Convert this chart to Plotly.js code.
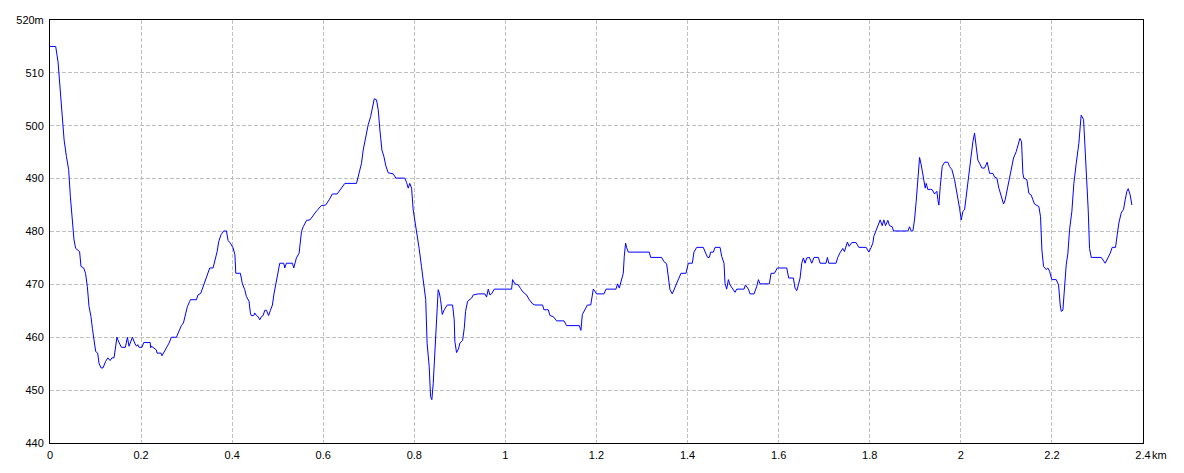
<!DOCTYPE html>
<html>
<head>
<meta charset="utf-8">
<script src="https://cdn.plot.ly/plotly-3.0.1.min.js"></script>
<style>html,body{margin:0;padding:0;background:#fff;}#chart{width:1184px;height:473px;}</style>
</head>
<body>
<div id="chart"></div>
<script>
const dist = [0,0.0125,0.0176,0.0227,0.027,0.031,0.036,0.041,0.0447,0.0476,0.05,0.0527,0.0564,0.065,0.068,0.074,0.078,0.082,0.0857,0.09,0.093,0.096,0.1003,0.1047,0.1076,0.112,0.1164,0.122,0.127,0.132,0.136,0.1406,0.143,0.147,0.15,0.1567,0.1655,0.17,0.1735,0.1765,0.181,0.186,0.19,0.1926,0.1955,0.202,0.2058,0.22,0.221,0.223,0.2277,0.2336,0.235,0.244,0.246,0.252,0.2556,0.2614,0.2665,0.2775,0.2827,0.2885,0.293,0.2973,0.3017,0.3068,0.3083,0.3215,0.325,0.331,0.336,0.3412,0.3456,0.3508,0.358,0.3625,0.367,0.3705,0.3756,0.3815,0.3874,0.391,0.396,0.402,0.406,0.408,0.418,0.4225,0.4277,0.4313,0.437,0.44,0.442,0.4474,0.4496,0.4533,0.457,0.4606,0.4643,0.468,0.4716,0.4752,0.48,0.484,0.4884,0.4914,0.4958,0.501,0.5045,0.5133,0.5155,0.519,0.5324,0.5353,0.541,0.547,
0.549,0.5522,0.556,0.5633,0.5707,0.578,0.5865,0.5957,0.6053,0.613,0.62,0.6306,0.638,0.6474,0.673,0.6789,0.684,0.6877,0.6936,0.6987,0.704,0.7082,0.712,0.717,0.7207,0.7244,0.7288,0.7331,0.7375,0.7426,0.7536,0.7595,0.779,0.7829,0.7866,0.79,0.794,0.7975,0.801,0.806,0.8105,0.8157,0.821,0.825,0.828,0.8326,0.8356,0.8385,0.8415,0.8451,0.8488,0.8524,0.8546,0.8576,0.8613,0.8657,0.8723,0.884,0.8876,0.889,0.8927,0.897,0.9,0.906,0.9096,0.9125,0.9169,0.9206,0.9257,0.9293,0.9403,0.955,0.9586,0.9623,0.966,0.9696,0.9755,1.0136,1.0157,1.0209,1.0282,1.0333,1.0392,1.0465,1.0524,1.0597,1.0648,1.0816,1.0846,1.0941,1.0978,1.1051,1.1124,1.1285,1.1344,
1.1622,1.1658,1.1689,1.1725,1.177,1.18,1.1873,1.19,1.193,1.1965,1.2,1.2164,1.2209,1.2427,1.2464,1.25,1.2552,1.2588,1.261,1.2639,1.2661,1.2698,1.316,1.3189,1.343,1.3481,1.354,1.3577,1.3613,1.3664,1.3708,1.376,1.381,1.3855,1.3965,1.4016,1.4104,1.414,1.42,1.4345,1.4397,1.444,1.4478,1.4507,1.4566,1.4603,1.4713,1.4749,1.48,1.4822,1.4859,1.4896,1.4932,1.4991,1.5042,1.5079,1.524,1.5269,1.5335,1.5372,1.546,1.5518,1.5555,1.5591,1.5796,1.5833,1.5906,1.5972,1.6177,1.622,1.6323,1.636,1.6397,1.6433,1.647,1.6507,1.6543,1.658,1.6616,1.6675,1.6726,1.6777,1.6873,1.691,1.704,1.707,1.71,1.7261,1.7297,1.7349,1.7407,1.7444,1.748,1.751,1.7547,1.7605,1.77,1.776,1.7921,1.798,1.8031,1.8068,1.809,1.8141,1.8192,1.8229,1.8273,1.831,1.8346,1.8397,1.8434,1.8493,1.8522,1.8837,1.8873,1.891,1.8947,1.8983,1.902,1.9057,1.9094,1.913,1.9181,1.9218,1.924,1.9277,1.9328,1.9372,1.9423,1.9474,1.9496,1.9518,1.9548,1.9591,1.9643,1.9716,1.9752,1.9804,1.9862,1.9899,1.9935,1.9972,2.0009,2.0045,2.0082,2.0133,2.0177,2.0228,2.0265,2.0301,2.0338,2.0374,2.0411,2.0462,2.0521,2.0579,2.0631,2.0704,2.074,2.0791,2.0835,2.0887,2.0938,2.0974,2.1011,2.1055,2.1106,2.1157,2.1216,2.1267,2.1297,2.1333,2.1362,2.1384,2.145,2.1494,2.1545,2.1582,2.1618,2.1714,2.175,2.178,2.1816,2.1875,2.1911,2.1948,2.1999,2.2094,2.2146,2.2182,2.2204,2.2241,2.2277,2.2314,2.2351,2.2387,2.2438,2.2482,2.2534,2.2592,2.2621,2.2643,2.2695,2.2731,2.2768,2.2797,2.2826,2.2863,2.3083,2.3134,2.317,2.3229,2.328,2.3324,2.3397,2.3434,2.347,2.3521,2.3573,2.3609,2.3646,2.3675,2.3719,2.3756];

const elev = [515,515,512.1,506.9,502,497.3,494.2,491.7,486.6,483.5,480.3,478.4,476.8,476.2,473.4,473.1,472.1,469.6,465.8,463.9,461.7,459.5,457.3,457,455.1,454.2,454.2,455.4,456.1,455.6,456.1,456.1,458,460,459.3,458.1,458.1,460,458.3,458.9,460,458.9,458.3,458.6,458.1,458.1,459,459,458,458.3,458,457.6,457,457,456.5,457.3,458,458.9,460,460,461.1,462.2,462.7,464.3,465.8,466.8,467.1,467.1,468,468.3,469.5,470.4,471.8,473.1,473.1,474.6,476.2,478.1,479.4,480.1,480.1,478.3,477.8,476.9,475.6,472.1,472.1,470.1,469,467.7,466.8,464.6,464.1,464.1,464.6,464.1,463.9,463.3,463.9,464.1,465.1,465.1,464.1,465.1,466.1,468,470.2,472.1,474,474,473.1,474,474,473.1,475,475.9,
477.2,480,480.9,482.1,482.2,483.1,484,484.9,485,486,487.1,487.1,487.9,489.1,489.1,491,492.9,495.4,498,500.2,501.7,503.3,505.1,504.9,503,499.2,495.4,494.2,492.4,491.1,490.9,490.1,490.1,489.3,488.2,489.1,488.2,484.1,482.2,479.7,476.8,473.4,470.2,467.1,458.9,454.5,448.8,448.2,451.3,457.6,463.3,469,468.5,467.1,464.3,465.2,466.1,466.1,463.3,459.2,457.1,457.8,458.9,459.4,461.7,464.9,466.8,467.1,467.4,468,468.2,468.2,467.6,469.1,468,468.2,469.1,469.1,470.9,470.1,469.9,469.2,468.5,468,467.1,466.3,466.1,466.1,465.2,465.2,464.1,463.9,463.1,463.1,462.2,
462.2,461.3,464.3,464.9,465.8,466.1,466.1,467.7,469.1,468.7,468.2,468.2,469.1,469.1,470.1,469.3,470.9,472.1,475.3,477.8,477,476.1,476.1,475.1,475.1,474.3,473.9,471.5,469,468.2,469.1,470.2,471.2,472.1,472.1,474,474,476.1,477,477,475.9,475.1,475.1,476.1,476.1,477,477,475.3,474,470.2,469.1,470.9,469.9,469,468.5,469.1,469.1,469.9,469.1,468.2,468.2,469.6,470.9,470.1,470.1,472.1,472.1,473.1,473.1,471.2,471.2,469.3,468.8,469.9,471.2,474,475,474,475,475.1,474,475.1,475.1,474,474,475.1,474,474,475.1,476,476.8,476.2,477,478,477.2,477.9,477.9,477,477,476.1,477,477.8,479.1,480.3,481.6,482.2,481.1,482.2,481.1,482.1,481.1,480.9,480.1,480.1,480.9,480.1,480.1,482.2,485.7,491,494,492.6,490.4,488.2,489.1,487.9,488,487.9,487.1,487.6,486,485,488.5,492.3,493.1,493.1,492.3,491.7,489.8,488.2,486,484.4,482.2,483.8,484.1,487.9,491,494.8,497,498.6,496.1,493.5,492.9,492,492,493.1,491,491,490.3,490.1,488.2,486.9,485.2,486,487.6,490.1,492,493.9,495.1,496.4,497.6,497,491,490.1,489.8,487.2,486.9,486,485.2,484.7,482.8,476.5,473.4,472.8,473.1,472.5,470.9,470.9,469.9,466.1,464.9,465.1,469.9,473.7,475.9,480.3,483.8,489.1,492.9,496.7,499.8,502,501.2,495.4,491,484.1,476.8,475.1,475.1,474.5,474,475,475.9,477,477,479.4,481.6,483.5,484.2,486,487.6,488.1,486.9,485];

const xTickVals = [0,0.2,0.4,0.6,0.8,1,1.2,1.4,1.6,1.8,2,2.2,2.4];
const xTickText = ["0","0.2","0.4","0.6","0.8","1","1.2","1.4","1.6","1.8","2","2.2","2.4"];
const yTickVals = [440,450,460,470,480,490,500,510,520];
const yTickText = ["440","450","460","470","480","490","500","510","520m"];

const font = {family: "Liberation Sans, Arial, sans-serif", size: 11, color: "#000"};

Plotly.newPlot("chart", [{
  x: dist, y: elev, type: "scatter", mode: "lines",
  line: {color: "#0000ff", width: 1}, hoverinfo: "skip"
}], {
  width: 1184, height: 473,
  margin: {l: 50, r: 41, t: 20, b: 30, pad: 0},
  paper_bgcolor: "#fff", plot_bgcolor: "#fff",
  showlegend: false,
  font: font,
  xaxis: {
    range: [0, 2.4], tickmode: "array", tickvals: xTickVals, ticktext: xTickText,
    showgrid: true, gridcolor: "#c0c0c0", griddash: "4px,2px", gridwidth: 1,
    showline: true, linecolor: "#000", linewidth: 1, mirror: true,
    zeroline: false, ticks: "", tickfont: font, ticklabelstandoff: 2, fixedrange: true
  },
  yaxis: {
    range: [440, 520], tickmode: "array", tickvals: yTickVals, ticktext: yTickText,
    showgrid: true, gridcolor: "#c0c0c0", griddash: "4px,2px", gridwidth: 1,
    showline: true, linecolor: "#000", linewidth: 1, mirror: true,
    zeroline: false, ticks: "", tickfont: font, ticklabelstandoff: 3, fixedrange: true
  },
  annotations: [{
    xref: "x", yref: "paper", x: 2.4, y: 0, xanchor: "left", yanchor: "top",
    text: "km", showarrow: false, font: font, xshift: 7, yshift: -4
  }]
}, {displayModeBar: false, staticPlot: true});
</script>
</body>
</html>
